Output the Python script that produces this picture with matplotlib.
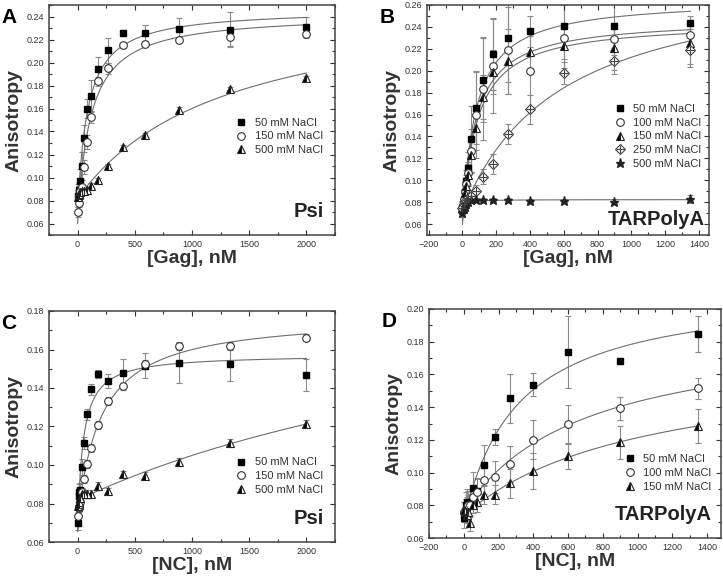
import numpy as np
from matplotlib import pyplot as plt
from matplotlib.ticker import AutoMinorLocator, MultipleLocator

plt.rcParams['font.family'] = ['Liberation Sans', 'DejaVu Sans']

# concentrations (nM)
x_psi = [0, 10, 16, 23, 35, 53, 79, 117, 176, 263, 395, 593, 889, 1333, 2000]
x_tar = [0, 10, 16, 23, 35, 53, 79, 119, 178, 267, 400, 600, 900, 1350]

# panel A: Gag / Psi
a_50 = [0.084, 0.087, 0.089, 0.097, 0.110, 0.134, 0.160, 0.171, 0.194, 0.2105, 0.2255, 0.226, 0.229, 0.2285, 0.2305]
a_50_err = [0.010, 0.006, 0.006, 0.010, 0.012, 0.012, 0.008, 0.014, 0.011, 0.011, 0.002, 0.007, 0.010, 0.015, 0.009]
a_150 = [0.070, 0.078, 0.083, 0.088, 0.092, 0.109, 0.131, 0.1527, 0.1836, 0.195, 0.215, 0.2163, 0.2197, 0.222, 0.2247]
a_150_err = [0.004, 0.004, 0.004, 0.005, 0.006, 0.006, 0.006, 0.005, 0.004, 0.005, 0.002, 0.002, 0.002, 0.008, 0.002]
a_500 = [0.083, 0.085, 0.086, 0.087, 0.088, 0.088, 0.0895, 0.093, 0.0977, 0.1099, 0.1265, 0.137, 0.159, 0.177, 0.1865]
a_500_err = [0.002] * 15

# panel B: Gag / TARPolyA
b_50 = [0.075, 0.080, 0.088, 0.099, 0.111, 0.1376, 0.166, 0.1915, 0.215, 0.230, 0.236, 0.241, 0.241, 0.244]
b_50_err = [0.006, 0.008, 0.010, 0.010, 0.015, 0.030, 0.033, 0.038, 0.033, 0.040, 0.014, 0.030, 0.030, 0.006]
b_100 = [0.075, 0.083, 0.090, 0.097, 0.107, 0.127, 0.160, 0.1835, 0.204, 0.2185, 0.200, 0.230, 0.229, 0.2327]
b_100_err = [0.006, 0.006, 0.008, 0.008, 0.010, 0.020, 0.040, 0.047, 0.043, 0.040, 0.035, 0.030, 0.015, 0.010]
b_150 = [0.075, 0.082, 0.088, 0.095, 0.105, 0.1226, 0.148, 0.176, 0.199, 0.2085, 0.217, 0.2227, 0.221, 0.2257]
b_150_err = [0.005, 0.006, 0.008, 0.008, 0.010, 0.015, 0.020, 0.020, 0.020, 0.030, 0.015, 0.020, 0.020, 0.020]
b_250 = [0.075, 0.078, 0.080, 0.082, 0.084, 0.086, 0.090, 0.1034, 0.115, 0.1424, 0.1646, 0.198, 0.209, 0.2185]
b_250_err = [0.005, 0.005, 0.005, 0.005, 0.005, 0.005, 0.006, 0.007, 0.009, 0.009, 0.013, 0.010, 0.012, 0.015]
b_500 = [0.070, 0.074, 0.076, 0.078, 0.080, 0.082, 0.082, 0.082, 0.082, 0.082, 0.0808, 0.081, 0.0805, 0.0829]
b_500_err = [0.004, 0.004, 0.003, 0.003, 0.003, 0.002, 0.002, 0.002, 0.002, 0.002, 0.002, 0.002, 0.002, 0.004]

# panel C: NC / Psi
c_50 = [0.070, 0.084, 0.086, 0.0868, 0.099, 0.1114, 0.1263, 0.1393, 0.1474, 0.1436, 0.1478, 0.1515, 0.1532, 0.1524, 0.1467]
c_50_err = [0.004, 0.004, 0.004, 0.004, 0.004, 0.003, 0.003, 0.003, 0.002, 0.0037, 0.0073, 0.0065, 0.0105, 0.009, 0.0085]
c_150 = [0.0735, 0.0775, 0.078, 0.081, 0.086, 0.0929, 0.1007, 0.1088, 0.1206, 0.1333, 0.1408, 0.1524, 0.1616, 0.1619, 0.1662]
c_150_err = [0.002] * 15
c_500 = [0.0787, 0.080, 0.081, 0.083, 0.085, 0.085, 0.085, 0.0851, 0.0891, 0.0863, 0.0951, 0.0945, 0.1017, 0.1114, 0.1215]
c_500_err = [0.002] * 15

# panel D: NC / TARPolyA
d_50 = [0.0723, 0.080, 0.082, 0.081, 0.081, 0.0905, 0.0889, 0.1044, 0.1219, 0.1453, 0.1536, 0.1735, 0.1683, 0.1847]
d_50_err = [0.006, 0.008, 0.008, 0.008, 0.008, 0.010, 0.008, 0.0125, 0.005, 0.015, 0.007, 0.022, 0.0, 0.011]
d_100 = [0.076, 0.078, 0.079, 0.080, 0.080, 0.085, 0.088, 0.0956, 0.0973, 0.1054, 0.120, 0.1296, 0.1394, 0.1516]
d_100_err = [0.006, 0.006, 0.006, 0.006, 0.007, 0.007, 0.008, 0.009, 0.010, 0.011, 0.012, 0.012, 0.007, 0.0065]
d_150 = [0.077, 0.076, 0.074, 0.076, 0.069, 0.080, 0.082, 0.0865, 0.0865, 0.0934, 0.1007, 0.1099, 0.1184, 0.1286]
d_150_err = [0.005, 0.005, 0.005, 0.005, 0.005, 0.005, 0.006, 0.006, 0.006, 0.009, 0.011, 0.008, 0.010, 0.0105]

GREY = '#6e6e6e'

STYLES = {
    'square': dict(marker='s', ms=5, mfc='black', mec='black'),
    'circle': dict(marker='o', ms=5.5, mfc='white', mec='#333333', mew=0.8),
    'tri': dict(marker='^', ms=6, fillstyle='left', mfc='black', mfcalt='white',
                mec='#222222', mew=0.8),
    'diamond': dict(marker='D', ms=5.5, mfc='white', mec='#444444', mew=0.8),
    'star': dict(marker='*', ms=6.5, mfc='#222222', mec='#222222'),
}


def fit_curve(x, y):
    # single-site hyperbola fitted to the plotted points
    x = np.asarray(x, float)
    y = np.asarray(y, float)
    best = None
    for k in np.logspace(0, 4.5, 500):
        m = np.column_stack([np.ones_like(x), x / (k + x)])
        coef = np.linalg.lstsq(m, y, rcond=None)[0]
        r = np.sum((m @ coef - y) ** 2)
        if best is None or r < best[0]:
            best = (r, k, coef)
    _, k, (a0, da) = best
    xx = np.linspace(0, x.max(), 400)
    return xx, a0 + da * xx / (k + xx)


def panel(rect, letter, x, series, xlim, xstep, ylim, xlabel, rna, rna_xy, leg_xy):
    ax = fig.add_axes(rect)
    handles = []
    for y, err, style, label in series:
        ax.errorbar(x, y, yerr=err, fmt='none', ecolor='#8a8a8a', elinewidth=0.8,
                    capsize=2, capthick=0.8, zorder=1)
        xx, yy = fit_curve(x, y)
        ax.plot(xx, yy, color=GREY, lw=0.8, zorder=2)
        h, = ax.plot(x, y, ls='none', zorder=3, **STYLES[style])
        if style == 'diamond':
            p, = ax.plot(x, y, ls='none', marker='+', ms=5.5, mec='#444444', mew=0.8, zorder=4)
            h = (h, p)
        handles.append(h)
    ax.set_xlim(*xlim)
    ax.set_ylim(*ylim)
    ax.xaxis.set_major_locator(MultipleLocator(xstep))
    ax.xaxis.set_minor_locator(AutoMinorLocator(2))
    ax.yaxis.set_major_locator(MultipleLocator(0.02))
    ax.yaxis.set_minor_locator(AutoMinorLocator(2))
    ax.yaxis.set_major_formatter(lambda v, pos: f'{v:.2f}')
    ax.tick_params(which='both', direction='in', top=True, right=True,
                   labelsize=6.5, color='#333333', labelcolor='#333333')
    ax.tick_params(which='major', length=3.5, width=0.8)
    ax.tick_params(which='minor', length=2, width=0.8)
    for s in ax.spines.values():
        s.set_linewidth(1.1)
        s.set_color('#444444')
    ax.set_xlabel(xlabel, fontsize=14, fontweight='bold', color='#333333', labelpad=1)
    ax.set_ylabel('Anisotropy', fontsize=14, fontweight='bold', color='#333333', labelpad=3)
    ax.text(*rna_xy, rna, transform=ax.transAxes, ha='right', va='bottom',
            fontsize=14.5, fontweight='bold', color='#222222')
    ax.legend(handles, [s[3] for s in series], loc='upper left', bbox_to_anchor=leg_xy,
              frameon=False, fontsize=8, handlelength=1.2, handletextpad=0.6,
              labelspacing=0.35, borderpad=0, labelcolor='#333333')
    fig.text(rect[0] - 0.066, rect[1] + rect[3] - 0.005, letter, fontsize=15,
             fontweight='bold', va='top', ha='left')
    return ax


fig = plt.figure(figsize=(7.23, 5.78), dpi=100)
W, H = 723, 578


def rect(l, r, t, b):
    return [l / W, 1 - b / H, (r - l) / W, (b - t) / H]


panel(rect(49, 335, 5, 235), 'A', x_psi,
      [(a_50, a_50_err, 'square', '50 mM NaCl'),
       (a_150, a_150_err, 'circle', '150 mM NaCl'),
       (a_500, a_500_err, 'tri', '500 mM NaCl')],
      (-250, 2250), 500, (0.05, 0.25), '[Gag], nM', 'Psi', (0.96, 0.06), (0.63, 0.535))

panel(rect(427, 709, 5, 235), 'B', x_tar,
      [(b_50, b_50_err, 'square', '50 mM NaCl'),
       (b_100, b_100_err, 'circle', '100 mM NaCl'),
       (b_150, b_150_err, 'tri', '150 mM NaCl'),
       (b_250, b_250_err, 'diamond', '250 mM NaCl'),
       (b_500, b_500_err, 'star', '500 mM NaCl')],
      (-210, 1460), 200, (0.05, 0.26), '[Gag], nM', 'TARPolyA', (0.985, 0.025), (0.64, 0.595))

panel(rect(49, 335, 311, 542), 'C', x_psi,
      [(c_50, c_50_err, 'square', '50 mM NaCl'),
       (c_150, c_150_err, 'circle', '150 mM NaCl'),
       (c_500, c_500_err, 'tri', '500 mM NaCl')],
      (-250, 2250), 500, (0.06, 0.18), '[NC], nM', 'Psi', (0.96, 0.06), (0.63, 0.39))

panel(rect(429, 721, 309, 538), 'D', x_tar,
      [(d_50, d_50_err, 'square', '50 mM NaCl'),
       (d_100, d_100_err, 'circle', '100 mM NaCl'),
       (d_150, d_150_err, 'tri', '150 mM NaCl')],
      (-200, 1480), 200, (0.06, 0.20), '[NC], nM', 'TARPolyA', (0.97, 0.06), (0.647, 0.39))

fig.savefig('out.png', dpi=100)
